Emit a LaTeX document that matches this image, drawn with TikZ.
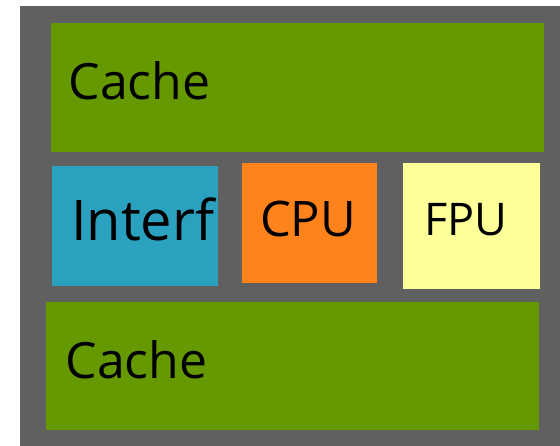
\documentclass[tikz,border=0pt]{standalone}
\usepackage{fontspec}
\setmainfont{Open Sans}
\definecolor{bggray}{RGB}{96,96,96}
\definecolor{cachegreen}{RGB}{102,153,0}
\definecolor{interfblue}{RGB}{43,161,192}
\definecolor{cpuorange}{RGB}{255,131,26}
\definecolor{fpuyellow}{RGB}{255,255,153}
\begin{document}
\begin{tikzpicture}[x=1pt,y=-1pt,
  block/.style={draw=none,inner sep=0pt,outer sep=0pt,anchor=north west},
  lbl/.style={inner sep=0pt,outer sep=0pt,anchor=base west,text=black}]
\useasboundingbox (0,0) rectangle (560,446);
\node[block,fill=bggray,minimum width=540pt,minimum height=440pt] (bg) at (20,6) {};
\node[block,fill=cachegreen,minimum width=493pt,minimum height=129pt] (cachetop) at (51,23) {};
\node[block,fill=interfblue,minimum width=166pt,minimum height=120pt] (interf) at (52,166) {};
\node[block,fill=cpuorange,minimum width=135pt,minimum height=120pt] (cpu) at (242,163) {};
\node[block,fill=fpuyellow,minimum width=137pt,minimum height=126pt] (fpu) at (403,163) {};
\node[block,fill=cachegreen,minimum width=493pt,minimum height=128pt] (cachebot) at (46,302) {};
\node[lbl,font=\fontsize{50}{50}\selectfont] (t1) at (68.5,100) {Cache};
\node[lbl,font=\fontsize{56}{56}\selectfont] (t2) at (71,241) {Interf};
\node[lbl,font=\fontsize{49}{49}\selectfont] (t3) at (260,237) {CPU};
\node[lbl,font=\fontsize{45}{45}\selectfont] (t4) at (424,236) {FPU};
\node[lbl,font=\fontsize{50}{50}\selectfont] (t5) at (65.5,379) {Cache};
\end{tikzpicture}
\end{document}
